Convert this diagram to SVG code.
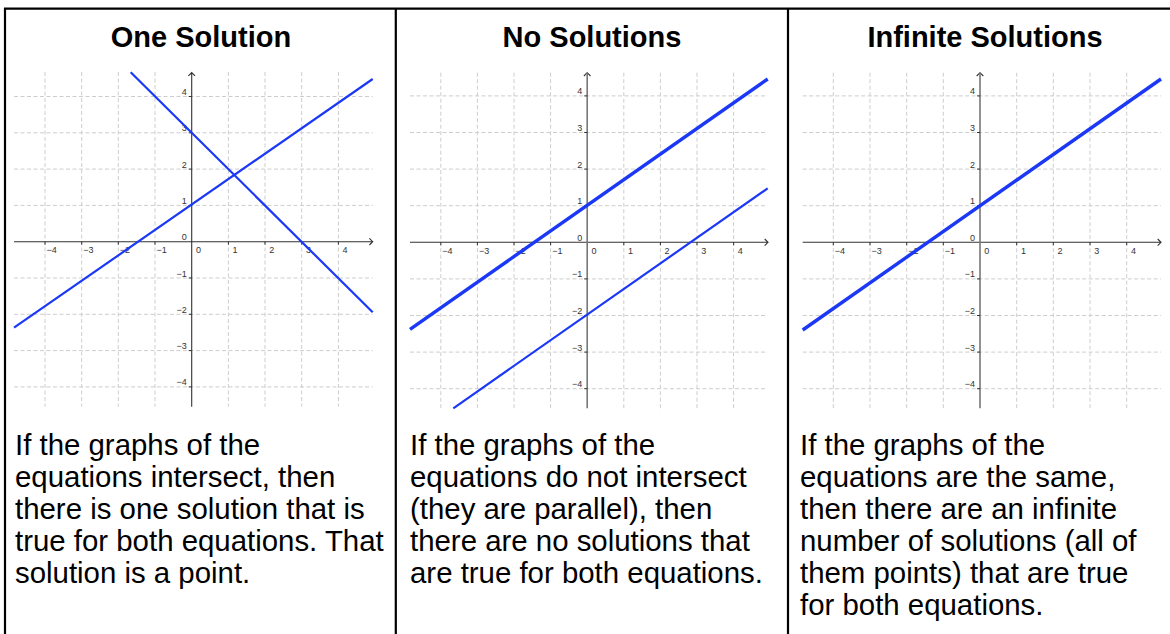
<svg xmlns="http://www.w3.org/2000/svg" width="1170" height="634" viewBox="0 0 1170 634">
<style>
.grid{fill:none;stroke:#cdcdcd;stroke-width:1;stroke-dasharray:4 2.5}
.axis{fill:none;stroke:#333;stroke-width:1.1}
.yaxis{fill:none;stroke:#777;stroke-width:1.6}
.tick{fill:none;stroke:#333;stroke-width:1}
.tl{font-family:"Liberation Sans",Arial,sans-serif;font-size:9px;fill:#333}
.tx{text-anchor:middle}
.ty{text-anchor:end}
.line{fill:none;stroke:#1a38f5;stroke-width:2.2}
.thick{stroke-width:3.4}
.frame{fill:none;stroke:#000;stroke-width:2.2}
.head{font-family:"Liberation Sans",Arial,sans-serif;font-size:29px;font-weight:bold;fill:#000;text-anchor:middle}
.body{font-family:"Liberation Sans",Arial,sans-serif;font-size:29.4px;fill:#000}
</style>
<rect x="0" y="0" width="1170" height="634" fill="#fff"/>
<g id="frame">
<path class="frame" d="M4,8.7H1170M5,8V634M395.8,8V634M788,8V634"/>
</g>
<g id="panel-one">
<text class="head" x="201" y="47">One Solution</text>
<path class="grid" d="M45,72V406.7M81.7,72V406.7M118.3,72V406.7M155,72V406.7M228.4,72V406.7M265,72V406.7M301.7,72V406.7M338.4,72V406.7M14,96.5H372.7M14,132.8H372.7M14,169.1H372.7M14,205.4H372.7M14,278H372.7M14,314.3H372.7M14,350.6H372.7M14,386.9H372.7"/>
<path class="axis" d="M14,241.7H372.7M369.4,238.4L372.7,241.7L369.4,245M191.7,406.7V72.5M188.4,75.8L191.7,72.5L195,75.8"/>
<path class="tick" d="M45,241.7v3M81.7,241.7v3M118.3,241.7v3M155,241.7v3M228.4,241.7v3M265,241.7v3M301.7,241.7v3M338.4,241.7v3M188.7,96.5h3M188.7,132.8h3M188.7,169.1h3M188.7,205.4h3M188.7,278h3M188.7,314.3h3M188.7,350.6h3M188.7,386.9h3"/>
<g class="tl tx">
<text x="51.7" y="253.3">−4</text><text x="88.4" y="253.3">−3</text><text x="125" y="253.3">−2</text><text x="161.7" y="253.3">−1</text><text x="198.4" y="253.3">0</text><text x="235.1" y="253.3">1</text><text x="271.7" y="253.3">2</text><text x="308.4" y="253.3">3</text><text x="345.1" y="253.3">4</text>
</g>
<g class="tl ty">
<text x="186.7" y="95">4</text><text x="186.7" y="131.3">3</text><text x="186.7" y="167.6">2</text><text x="186.7" y="203.9">1</text><text x="186.7" y="240.2">0</text><text x="186.7" y="276.5">−1</text><text x="186.7" y="312.8">−2</text><text x="186.7" y="349.1">−3</text><text x="186.7" y="385.4">−4</text>
</g>
<path class="line" d="M14,327.7L372.7,79"/>
<path class="line" d="M130.7,72.3L372.7,312.3"/>
<text class="body"><tspan x="15" y="455">If the graphs of the</tspan><tspan x="15" y="487">equations intersect, then</tspan><tspan x="15" y="519">there is one solution that is</tspan><tspan x="15" y="551">true for both equations. That</tspan><tspan x="15" y="583">solution is a point.</tspan></text>
</g>
<g id="panel-none">
<text class="head" x="592" y="47">No Solutions</text>
<path class="grid" d="M440.8,72.7V408.3M477.4,72.7V408.3M514,72.7V408.3M550.6,72.7V408.3M623.8,72.7V408.3M660.4,72.7V408.3M697,72.7V408.3M733.6,72.7V408.3M410,95.9H767.7M410,132.5H767.7M410,169.1H767.7M410,205.7H767.7M410,278.9H767.7M410,315.5H767.7M410,352.1H767.7M410,388.7H767.7"/>
<path class="axis" d="M410,242.3H768M764.7,239L768,242.3L764.7,245.6M583.9,76L587.2,72.7L590.5,76"/>
<path class="yaxis" d="M587.2,408.3V72.7"/>
<path class="tick" d="M440.8,242.3v3M477.4,242.3v3M514,242.3v3M550.6,242.3v3M623.8,242.3v3M660.4,242.3v3M697,242.3v3M733.6,242.3v3M584.2,95.9h3M584.2,132.5h3M584.2,169.1h3M584.2,205.7h3M584.2,278.9h3M584.2,315.5h3M584.2,352.1h3M584.2,388.7h3"/>
<g class="tl tx">
<text x="447.5" y="253.9">−4</text><text x="484.1" y="253.9">−3</text><text x="520.7" y="253.9">−2</text><text x="557.3" y="253.9">−1</text><text x="593.9" y="253.9">0</text><text x="630.5" y="253.9">1</text><text x="667.1" y="253.9">2</text><text x="703.7" y="253.9">3</text><text x="740.3" y="253.9">4</text>
</g>
<g class="tl ty">
<text x="582.2" y="94.4">4</text><text x="582.2" y="131">3</text><text x="582.2" y="167.6">2</text><text x="582.2" y="204.2">1</text><text x="582.2" y="240.8">0</text><text x="582.2" y="277.4">−1</text><text x="582.2" y="314">−2</text><text x="582.2" y="350.6">−3</text><text x="582.2" y="387.2">−4</text>
</g>
<path class="line thick" d="M410,329.3L767.7,79"/>
<path class="line" d="M453.3,408.3L767.7,188.3"/>
<text class="body"><tspan x="410" y="455">If the graphs of the</tspan><tspan x="410" y="487">equations do not intersect</tspan><tspan x="410" y="519">(they are parallel), then</tspan><tspan x="410" y="551">there are no solutions that</tspan><tspan x="410" y="583">are true for both equations.</tspan></text>
</g>
<g id="panel-infinite">
<text class="head" x="985" y="47">Infinite Solutions</text>
<path class="grid" d="M833.3,72.7V408.3M870,72.7V408.3M906.7,72.7V408.3M943.3,72.7V408.3M1016.7,72.7V408.3M1053.3,72.7V408.3M1090,72.7V408.3M1126.7,72.7V408.3M802.7,95.9H1161M802.7,132.5H1161M802.7,169.1H1161M802.7,205.7H1161M802.7,278.9H1161M802.7,315.5H1161M802.7,352.1H1161M802.7,388.7H1161"/>
<path class="axis" d="M802.7,242.3H1161M1157.7,239L1161,242.3L1157.7,245.6M976.7,76L980,72.7L983.3,76"/>
<path class="yaxis" d="M980,408.3V72.7"/>
<path class="tick" d="M833.3,242.3v3M870,242.3v3M906.7,242.3v3M943.3,242.3v3M1016.7,242.3v3M1053.3,242.3v3M1090,242.3v3M1126.7,242.3v3M977,95.9h3M977,132.5h3M977,169.1h3M977,205.7h3M977,278.9h3M977,315.5h3M977,352.1h3M977,388.7h3"/>
<g class="tl tx">
<text x="840" y="253.9">−4</text><text x="876.7" y="253.9">−3</text><text x="913.4" y="253.9">−2</text><text x="950" y="253.9">−1</text><text x="986.7" y="253.9">0</text><text x="1023.4" y="253.9">1</text><text x="1060" y="253.9">2</text><text x="1096.7" y="253.9">3</text><text x="1133.4" y="253.9">4</text>
</g>
<g class="tl ty">
<text x="975" y="94.4">4</text><text x="975" y="131">3</text><text x="975" y="167.6">2</text><text x="975" y="204.2">1</text><text x="975" y="240.8">0</text><text x="975" y="277.4">−1</text><text x="975" y="314">−2</text><text x="975" y="350.6">−3</text><text x="975" y="387.2">−4</text>
</g>
<path class="line thick" d="M802.7,330L1161,79"/>
<text class="body"><tspan x="800" y="455">If the graphs of the</tspan><tspan x="800" y="487">equations are the same,</tspan><tspan x="800" y="519">then there are an infinite</tspan><tspan x="800" y="551">number of solutions (all of</tspan><tspan x="800" y="583">them points) that are true</tspan><tspan x="800" y="615">for both equations.</tspan></text>
</g>
</svg>
